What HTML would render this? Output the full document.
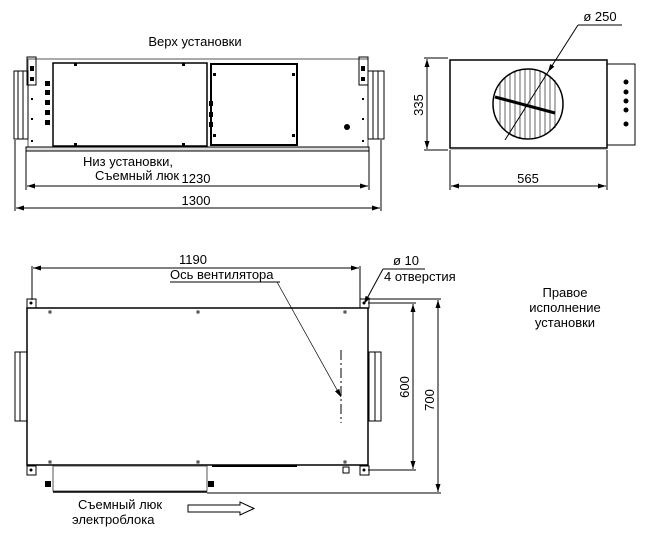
<!DOCTYPE html>
<html><head><meta charset="utf-8"><style>
html,body{margin:0;padding:0;background:#fff}
svg{display:block}
text{font-family:"Liberation Sans Narrow","Liberation Sans",sans-serif;fill:#000}
</style></head><body>
<svg width="650" height="541" viewBox="0 0 650 541" xmlns="http://www.w3.org/2000/svg">
<defs>
<marker id="a" markerWidth="8" markerHeight="6" refX="8" refY="3" orient="auto" markerUnits="userSpaceOnUse"><path d="M0,0.5 L8,3 L0,5.5z" fill="#000"/></marker>
<marker id="b" markerWidth="8" markerHeight="6" refX="0" refY="3" orient="auto" markerUnits="userSpaceOnUse"><path d="M8,0.5 L0,3 L8,5.5z" fill="#000"/></marker>
</defs>
<g fill="none" stroke="#000" stroke-width="1">
<!-- TOP-LEFT VIEW -->
<text x="195" y="46" font-size="13" text-anchor="middle" stroke="none">Верх установки</text>
<line x1="28" y1="59" x2="368" y2="59" stroke="#888"/>
<rect x="28" y="59" width="340" height="88" stroke="#555"/>
<rect x="53" y="63" width="154" height="83" stroke-width="1.5"/>
<rect x="211" y="64" width="86" height="81" stroke-width="2"/>
<rect x="14" y="71" width="14" height="68"/><line x1="18" y1="71" x2="18" y2="139"/><line x1="23" y1="71" x2="23" y2="139"/>
<rect x="368" y="71" width="16" height="68"/><line x1="373" y1="71" x2="373" y2="139"/><line x1="378" y1="71" x2="378" y2="139"/>
<rect x="27" y="57" width="9" height="28"/><rect x="359" y="57" width="9" height="28"/>
<g fill="#000" stroke="none">
<rect x="30" y="66" width="4" height="5"/><rect x="30" y="77" width="4" height="4"/>
<rect x="361" y="66" width="4" height="5"/><rect x="361" y="77" width="4" height="4"/>
<rect x="45" y="81" width="5" height="5"/><rect x="45" y="90" width="5" height="5"/><rect x="45" y="100" width="5" height="5"/><rect x="45" y="110" width="5" height="5"/><rect x="45" y="120" width="5" height="5"/>
<rect x="209" y="101" width="4" height="5"/><rect x="209" y="112" width="4" height="5"/><rect x="209" y="122" width="4" height="5"/>
<circle cx="347" cy="127" r="3"/>
<rect x="74" y="63" width="3" height="3"/><rect x="182" y="63" width="3" height="3"/><rect x="74" y="143" width="3" height="3"/><rect x="182" y="143" width="3" height="3"/>
<rect x="213" y="73" width="3" height="3"/><rect x="292" y="73" width="3" height="3"/><rect x="213" y="134" width="3" height="3"/><rect x="292" y="134" width="3" height="3"/>
<rect x="31" y="98" width="2" height="2"/><rect x="31" y="118" width="2" height="2"/><rect x="31" y="140" width="2" height="2"/>
<rect x="362" y="98" width="2" height="2"/><rect x="362" y="118" width="2" height="2"/><rect x="362" y="140" width="2" height="2"/>
</g>
<rect x="26" y="147" width="343" height="4" fill="#ddd"/>
<line x1="26" y1="151" x2="26" y2="190"/><line x1="369" y1="151" x2="369" y2="190"/>
<line x1="15" y1="140" x2="15" y2="211"/><line x1="381" y1="140" x2="381" y2="211"/>
<line x1="27" y1="186" x2="368" y2="186" marker-start="url(#b)" marker-end="url(#a)"/>
<line x1="16" y1="208" x2="380" y2="208" marker-start="url(#b)" marker-end="url(#a)"/>
<text x="83" y="166" font-size="13" stroke="none">Низ установки,</text>
<text x="95" y="180" font-size="13" stroke="none">Съемный люк</text>
<text x="196" y="183" font-size="13" text-anchor="middle" stroke="none">1230</text>
<text x="196" y="205" font-size="13" text-anchor="middle" stroke="none">1300</text>

<!-- RIGHT VIEW -->
<rect x="450" y="60" width="157" height="88" stroke-width="1.5"/>
<rect x="607" y="64" width="28" height="81"/>
<line x1="450" y1="149" x2="607" y2="149" stroke="#888"/>
<g fill="#000" stroke="none"><circle cx="626" cy="82" r="2.5"/><circle cx="626" cy="92" r="2.5"/><circle cx="626" cy="101" r="2.5"/><circle cx="626" cy="110" r="2.5"/><circle cx="626" cy="124" r="2.5"/></g>
<circle cx="528" cy="104" r="35" stroke-width="1.5"/>
<g stroke-width="0.6">
<line x1="500" y1="82" x2="500" y2="126"/><line x1="505" y1="77" x2="505" y2="131"/><line x1="510" y1="74" x2="510" y2="134"/><line x1="515" y1="72" x2="515" y2="136"/><line x1="520" y1="70" x2="520" y2="138"/><line x1="525" y1="70" x2="525" y2="138"/><line x1="530" y1="70" x2="530" y2="138"/><line x1="535" y1="70" x2="535" y2="138"/><line x1="540" y1="71" x2="540" y2="137"/><line x1="545" y1="73" x2="545" y2="135"/><line x1="550" y1="76" x2="550" y2="132"/><line x1="555" y1="80" x2="555" y2="128"/>
</g>
<path d="M495,97 L555,113" stroke-width="3"/>
<line x1="578" y1="25" x2="622" y2="25"/>
<line x1="578" y1="25" x2="548" y2="72" marker-end="url(#a)"/>
<line x1="548" y1="72" x2="505" y2="140"/>
<text x="600" y="21" font-size="13" text-anchor="middle" stroke="none">ø 250</text>
<line x1="424" y1="58" x2="448" y2="58"/><line x1="424" y1="150" x2="448" y2="150"/>
<line x1="427" y1="59" x2="427" y2="149" marker-start="url(#b)" marker-end="url(#a)"/>
<text transform="translate(423,105) rotate(-90)" font-size="13" text-anchor="middle" stroke="none">335</text>
<line x1="450" y1="150" x2="450" y2="190"/><line x1="607" y1="150" x2="607" y2="190"/>
<line x1="451" y1="186" x2="606" y2="186" marker-start="url(#b)" marker-end="url(#a)"/>
<text x="528" y="183" font-size="13" text-anchor="middle" stroke="none">565</text>

<!-- BOTTOM VIEW -->
<rect x="27" y="308" width="341" height="157" stroke-width="1.5"/>
<rect x="15" y="352" width="12" height="69"/><line x1="20" y1="352" x2="20" y2="421"/>
<rect x="369" y="352" width="12" height="69"/><line x1="375" y1="352" x2="375" y2="421"/>
<rect x="27" y="299" width="9" height="9"/><rect x="360" y="299" width="9" height="9"/>
<rect x="27" y="466" width="9" height="9"/><rect x="360" y="466" width="9" height="9"/>
<rect x="53" y="466" width="154" height="25" stroke="#555"/>
<line x1="53" y1="492" x2="207" y2="492" stroke-width="1.5"/>
<line x1="212" y1="466" x2="297" y2="466" stroke-width="2"/>
<rect x="343" y="467" width="6" height="6"/>
<g fill="#000" stroke="none"><rect x="45" y="481" width="6" height="6"/><rect x="208" y="481" width="6" height="6"/>
<circle cx="31" cy="303" r="1.5"/><circle cx="364" cy="303" r="1.5"/><circle cx="31" cy="470" r="1.5"/><circle cx="364" cy="470" r="1.5"/></g>
<g stroke-width="0.8"><rect x="49" y="311" width="2" height="2"/><rect x="197" y="311" width="2" height="2"/><rect x="344" y="311" width="2" height="2"/><rect x="49" y="461" width="2" height="2"/><rect x="197" y="461" width="2" height="2"/><rect x="344" y="461" width="2" height="2"/></g>
<line x1="32" y1="266" x2="32" y2="300"/><line x1="360" y1="266" x2="360" y2="300"/>
<line x1="33" y1="268" x2="359" y2="268" marker-start="url(#b)" marker-end="url(#a)"/>
<text x="193" y="264" font-size="13" text-anchor="middle" stroke="none">1190</text>
<text x="170" y="279" font-size="13" stroke="none">Ось вентилятора</text>
<line x1="170" y1="282" x2="280" y2="282"/>
<line x1="277" y1="282" x2="341" y2="397" stroke-width="0.7" marker-end="url(#a)"/>
<line x1="341" y1="350" x2="341" y2="423" stroke-dasharray="10,3,2,3"/>
<text x="393" y="265" font-size="13" stroke="none">ø 10</text>
<text x="384" y="281" font-size="13" stroke="none">4 отверстия</text>
<line x1="383" y1="269" x2="425" y2="269"/>
<line x1="383" y1="269" x2="364" y2="304" marker-end="url(#a)"/>
<line x1="368" y1="299" x2="441" y2="299"/><line x1="368" y1="303" x2="416" y2="303"/>
<line x1="368" y1="470" x2="416" y2="470"/><line x1="207" y1="493" x2="441" y2="493"/>
<line x1="413" y1="304" x2="413" y2="469" marker-start="url(#b)" marker-end="url(#a)"/>
<line x1="438" y1="300" x2="438" y2="492" marker-start="url(#b)" marker-end="url(#a)"/>
<text transform="translate(409,387) rotate(-90)" font-size="13" text-anchor="middle" stroke="none">600</text>
<text transform="translate(434,400) rotate(-90)" font-size="13" text-anchor="middle" stroke="none">700</text>
<path d="M188,505 L240,505 L240,502 L254,508.5 L240,515 L240,512 L188,512 Z"/>
<text x="78" y="509" font-size="13" stroke="none">Съемный люк</text>
<text x="72" y="524" font-size="13" stroke="none">электроблока</text>
<text x="565" y="297" font-size="13" text-anchor="middle" stroke="none">Правое</text>
<text x="565" y="312" font-size="13" text-anchor="middle" stroke="none">исполнение</text>
<text x="565" y="327" font-size="13" text-anchor="middle" stroke="none">установки</text>
</g>
</svg>
</body></html>
